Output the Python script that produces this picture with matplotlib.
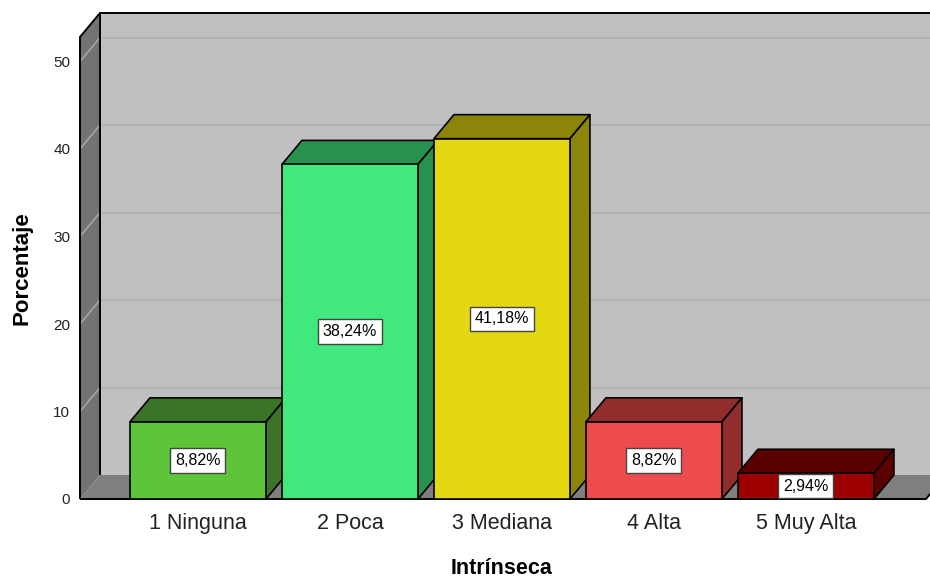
import matplotlib
matplotlib.use("Agg")
import matplotlib.pyplot as plt
from matplotlib.patches import Polygon

plt.rcParams['font.family'] = ['Liberation Sans', 'DejaVu Sans']

categories = ["1 Ninguna", "2 Poca", "3 Mediana", "4 Alta", "5 Muy Alta"]
values = [8.82, 38.24, 41.18, 8.82, 2.94]
labels = ["8,82%", "38,24%", "41,18%", "8,82%", "2,94%"]
yticks = [0, 10, 20, 30, 40, 50]
front_colors = ["#5ec43a", "#41e87e", "#e3d812", "#ed4c4e", "#9c0000"]
dark_colors = ["#3b7427", "#279150", "#8c850a", "#922d2e", "#5a0000"]

W, H = 930, 581
fig = plt.figure(figsize=(W / 100, H / 100), dpi=100)
ax = fig.add_axes([80 / W, 82 / H, (926 - 80) / W, (499 - 37) / H])
xl, xr = -0.776, 4.79
ymax = 52.8
ax.set_xlim(xl, xr)
ax.set_ylim(0, ymax)

# depth offset in pixels converted to data units
ax_w_px = (926 - 80)
ax_h_px = (499 - 37)
ddx = 20 * (xr - xl) / ax_w_px
ddy = 24 * ymax / ax_h_px

def poly(pts, fc, ec="black", lw=1.2, z=1):
    p = Polygon(pts, closed=True, facecolor=fc, edgecolor=ec, linewidth=lw,
                zorder=z, clip_on=False, joinstyle="round")
    ax.add_patch(p)

# walls
poly([(xl + ddx, ddy), (xr + ddx, ddy), (xr + ddx, ymax + ddy), (xl + ddx, ymax + ddy)],
     "#c0c0c0", ec="none", z=0.5)
poly([(xl, 0), (xr, 0), (xr + ddx, ddy), (xl + ddx, ddy)], "#7f7f7f", ec="none", z=0.6)
poly([(xl, 0), (xl, ymax), (xl + ddx, ymax + ddy), (xl + ddx, ddy)], "#737373", ec="none", z=0.6)

# gridlines
for t in yticks[1:]:
    ax.plot([xl + ddx, xr + ddx], [t + ddy, t + ddy], color="#b0b0b0", lw=1.2,
            zorder=0.7, clip_on=False, solid_capstyle="butt")
    ax.plot([xl, xl + ddx], [t, t + ddy], color="#a5a5a5", lw=1.2,
            zorder=0.7, clip_on=False)

# wall outlines
kw = dict(color="black", lw=1.4, zorder=0.8, clip_on=False, solid_capstyle="butt")
ax.plot([xl, xl, xl + ddx, xr + ddx + 0.5], [0, ymax, ymax + ddy, ymax + ddy], **kw)
ax.plot([xl + ddx, xl + ddx], [ddy, ymax + ddy], **kw)
ax.plot([xl, xr, xr + ddx], [0, 0, ddy], **kw)

# bars
bw = 0.895
for i, (v, fc, dc, lab) in enumerate(zip(values, front_colors, dark_colors, labels)):
    x0, x1 = i - bw / 2, i + bw / 2
    poly([(x0, v), (x1, v), (x1 + ddx, v + ddy), (x0 + ddx, v + ddy)], dc, z=2 + i)
    poly([(x1, 0), (x1 + ddx, ddy), (x1 + ddx, v + ddy), (x1, v)], dc, z=2 + i)
    poly([(x0, 0), (x1, 0), (x1, v), (x0, v)], fc, z=2 + i)
    ax.text(i, v / 2, lab, ha="center", va="center", fontsize=11.5, color="black",
            zorder=10,
            bbox=dict(boxstyle="square,pad=0.3", facecolor="white",
                      edgecolor="#444444", linewidth=1.0))

for s in ax.spines.values():
    s.set_visible(False)
ax.set_facecolor("none")
ax.set_yticks(yticks)
ax.set_yticklabels([str(t) for t in yticks], fontsize=11, color="#222222")
ax.set_xticks(range(len(categories)))
ax.set_xticklabels(categories, fontsize=15.5, color="#222222")
ax.tick_params(axis="y", length=0, pad=7)
ax.tick_params(axis="x", length=0, pad=10)

fig.text(22 / W, 1 - 268 / H, "Porcentaje", rotation=90, ha="center", va="center",
         fontsize=16, fontweight="bold", color="black")
fig.text(502 / W, 1 - 569 / H, "Intrínseca", ha="center", va="center",
         fontsize=15.5, fontweight="bold", color="black")

fig.savefig("out.png", dpi=100)
